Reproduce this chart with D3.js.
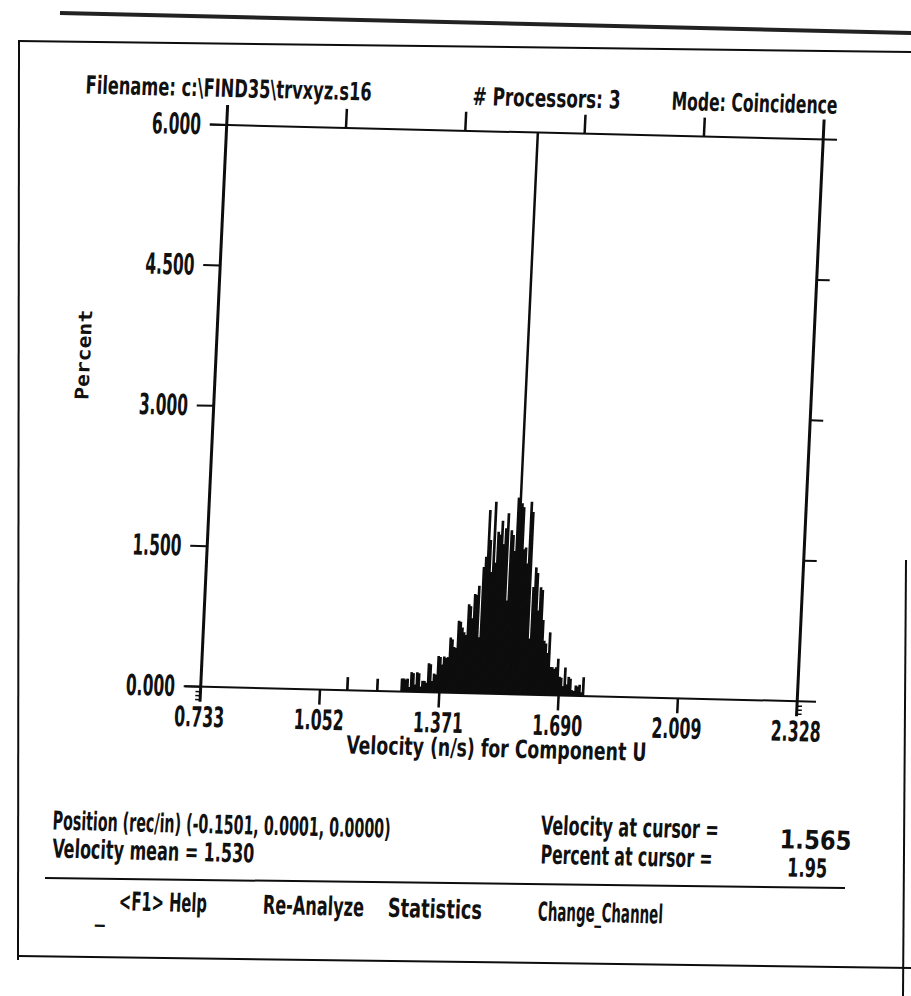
<!DOCTYPE html>
<html><head><meta charset="utf-8">
<script src="https://cdn.jsdelivr.net/npm/d3@7"></script>
<style>
html,body{margin:0;padding:0;background:#fff;}
svg{display:block;}
text{font-family:"Liberation Sans Narrow","DejaVu Sans Condensed","Liberation Sans",sans-serif;font-weight:bold;fill:#111;}
</style></head><body>
<svg id="c" width="911" height="996"></svg>
<script>
// ---------------- data ----------------
const velocityBins = [
 1.125,1.205,1.270,1.275,1.280,1.285,1.290,1.295,1.300,1.305,1.310,1.315,1.320,1.325,1.330,1.335,
 1.340,1.345,1.350,1.355,1.360,1.365,1.370,1.375,1.380,1.385,1.390,1.395,1.400,1.405,1.410,1.415,
 1.420,1.425,1.430,1.435,1.440,1.445,1.450,1.455,1.460,1.465,1.470,1.475,1.480,1.485,1.490,1.495,
 1.500,1.505,1.510,1.515,1.520,1.525,1.530,1.535,1.540,1.545,1.550,1.555,1.560,1.565,1.570,1.575,
 1.580,1.585,1.590,1.595,1.600,1.605,1.610,1.615,1.620,1.625,1.630,1.635,1.640,1.645,1.650,1.655,
 1.660,1.665,1.670,1.675,1.680,1.685,1.690,1.695,1.700,1.705,1.710,1.715,1.720,1.725,1.730,1.735,
 1.740,1.745,1.750,1.755];
const percentValues = [
 0.14,0.13,0.14,0.14,0.13,0.14,0.05,0.21,0.20,0.08,0.21,0.20,0.06,0.12,0.12,0.10,
 0.31,0.30,0.12,0.20,0.19,0.39,0.38,0.30,0.385,0.37,0.38,0.59,0.57,0.49,0.48,0.77,
 0.76,0.70,0.65,0.62,0.95,0.93,0.80,1.06,1.05,1.15,0.60,1.35,1.46,1.96,1.64,1.30,
 2.05,1.40,1.73,1.70,1.85,1.60,1.77,1.93,1.00,1.75,1.70,1.53,2.10,1.95,2.04,2.00,
 1.55,1.57,1.40,2.06,1.95,0.60,1.15,1.36,1.30,0.90,1.15,1.12,0.80,0.58,0.55,0.45,
 0.67,0.30,0.30,0.28,0.30,0.39,0.20,0.19,0.10,0.30,0.12,0.20,0.18,0.06,0.05,0.11,
 0.10,0.12,0.04,0.20];
const binWidth = 0.005;
const xTickValues = [0.733, 1.052, 1.371, 1.690, 2.009, 2.328];
const xTickLabels = ["0.733", "1.052", "1.371", "1.690", "2.009", "2.328"];
const yTickValues = [0, 1.5, 3, 4.5, 6];
const yTickLabels = ["0.000", "1.500", "3.000", "4.500", "6.000"];
const cursorVelocity = 1.565;
const cursorVelocityLabel = "1.565";
const cursorPercent = "1.95";
const velocityMean = "1.530";
const positionValues = ["-0.1501", "0.0001", "0.0000"];
const headerItems = ["Filename: c:\\FIND35\\trvxyz.s16", "# Processors: 3", "Mode: Coincidence"];
const menuItems = ["<F1> Help", "Re-Analyze", "Statistics", "Change_Channel"];
const xTitle = "Velocity (n/s) for Component U";
const yTitle = "Percent";

// ---------------- layout ----------------
const svg = d3.select("#c");
const P = {left: 226.7, right: 823.2, top: 125, bottom: 686.7};
const x = d3.scaleLinear().domain([0.733, 2.328]).range([P.left, P.right]);
const y = d3.scaleLinear().domain([0, 6]).range([P.bottom, P.top]);
const ink = "#0d0d0d";

const gline = (sel, x1, y1, x2, y2, w, col) => sel.append("line")
  .attr("x1", x1).attr("y1", y1).attr("x2", x2).attr("y2", y2)
  .attr("stroke", col || ink).attr("stroke-width", w);

// page edges (scan), untransformed
gline(svg, 60, 13, 911, 33, 4, "#222");
gline(svg, 18, 41, 911, 52, 2);
gline(svg, 19, 41, 18, 960, 2);
gline(svg, 906, 560, 903, 996, 2);
gline(svg, 45, 878, 845, 888, 2);          // divider above the menu
gline(svg, 18, 956, 911, 968, 2);          // bottom of the screen frame

// skewed screen content
const g = svg.append("g").attr("transform", "matrix(1,0.0243,-0.0463,1,5.79,-5.51)");

// histogram bars
const bw = x(binWidth) - x(0);
g.append("g").selectAll("rect").data(velocityBins).join("rect")
  .attr("x", (d) => x(d) - bw / 2 - 0.4)
  .attr("width", bw + 0.8)
  .attr("y", (d, i) => y(percentValues[i]))
  .attr("height", (d, i) => y(0) - y(percentValues[i]))
  .attr("fill", ink);

const line = (x1, y1, x2, y2, w) => gline(g, x1, y1, x2, y2, w);
line(210, y(6), 837, y(6), 2);                     // top
line(211, y(0), 842, y(0), 2);                     // baseline
line(x(0.733), y(6) - 20, x(0.733), y(0) + 15, 3); // left axis
line(x(2.328), y(6) - 20, x(2.328), y(0) + 15, 3); // right axis
xTickValues.slice(1, -1).forEach((v) => {
  line(x(v), y(6), x(v), y(6) - 19, 2.5);
  line(x(v), y(0), x(v), y(0) + 15, 2.5);
});
[5, 9, 13].forEach((o) => {
  line(x(0.733) - 5, y(0) + o, x(0.733), y(0) + o, 1.5);
  line(x(2.328), y(0) + o, x(2.328) + 5, y(0) + o, 1.5);
});
yTickValues.forEach((v) => line(x(0.733) - 17, y(v), x(0.733), y(v), 2));
yTickValues.slice(1, -1).forEach((v) => line(x(2.328), y(v), x(2.328) + 13, y(v), 2));

// cursor
line(x(cursorVelocity), y(6), x(cursorVelocity), y(0), 2.5);

// text helper: start-anchored, fixed length
const txt = (s, tx, ty, size, len) => g.append("text")
  .attr("x", tx).attr("y", ty).attr("font-size", size)
  .attr("textLength", len).attr("lengthAdjust", "spacingAndGlyphs").text(s);

// tick labels
g.append("g").selectAll("text").data(yTickValues).join("text")
  .attr("x", 201 - 49).attr("y", (d) => y(d) + 10)
  .attr("font-size", 29)
  .attr("textLength", 49).attr("lengthAdjust", "spacingAndGlyphs")
  .text((d, i) => yTickLabels[i]);
g.append("g").selectAll("text").data(xTickValues).join("text")
  .attr("x", (d) => x(d) - 25).attr("y", y(0) + 40)
  .attr("font-size", 28)
  .attr("textLength", 50).attr("lengthAdjust", "spacingAndGlyphs")
  .text((d, i) => xTickLabels[i]);

// titles
txt(xTitle, (P.left + P.right) / 2 - 150, 750, 25, 300);
g.append("text").attr("transform", "translate(101,403) rotate(-90)")
  .attr("font-size", 19)
  .style("font-family", "'DejaVu Sans Mono','Liberation Mono',monospace")
  .attr("textLength", 90).attr("lengthAdjust", "spacingAndGlyphs").text(yTitle);

// header
txt(headerItems[0], 84, 97, 25, 286);
txt(headerItems[1], 471, 99, 25, 148);
txt(headerItems[2], 670, 99, 25, 166);

// info block
txt("Position (rec/in) (" + positionValues.join(", ") + ")", 85, 833, 26, 338);
txt("Velocity mean = " + velocityMean, 86, 861, 26, 202);
txt("Velocity at cursor =", 573, 826, 26, 178);
txt(cursorVelocityLabel, 812, 834, 26, 72);
txt("Percent at cursor =", 574, 855, 26, 172);
txt(cursorPercent, 821, 862, 26, 40);

// menu
txt("_", 132, 923, 26, 10);
const menuX = [155, 299, 424, 574];
const menuW = [88, 101, 94, 125];
menuItems.forEach((m, i) => txt(m, menuX[i], 912, 26, menuW[i]));
</script>
</body></html>
